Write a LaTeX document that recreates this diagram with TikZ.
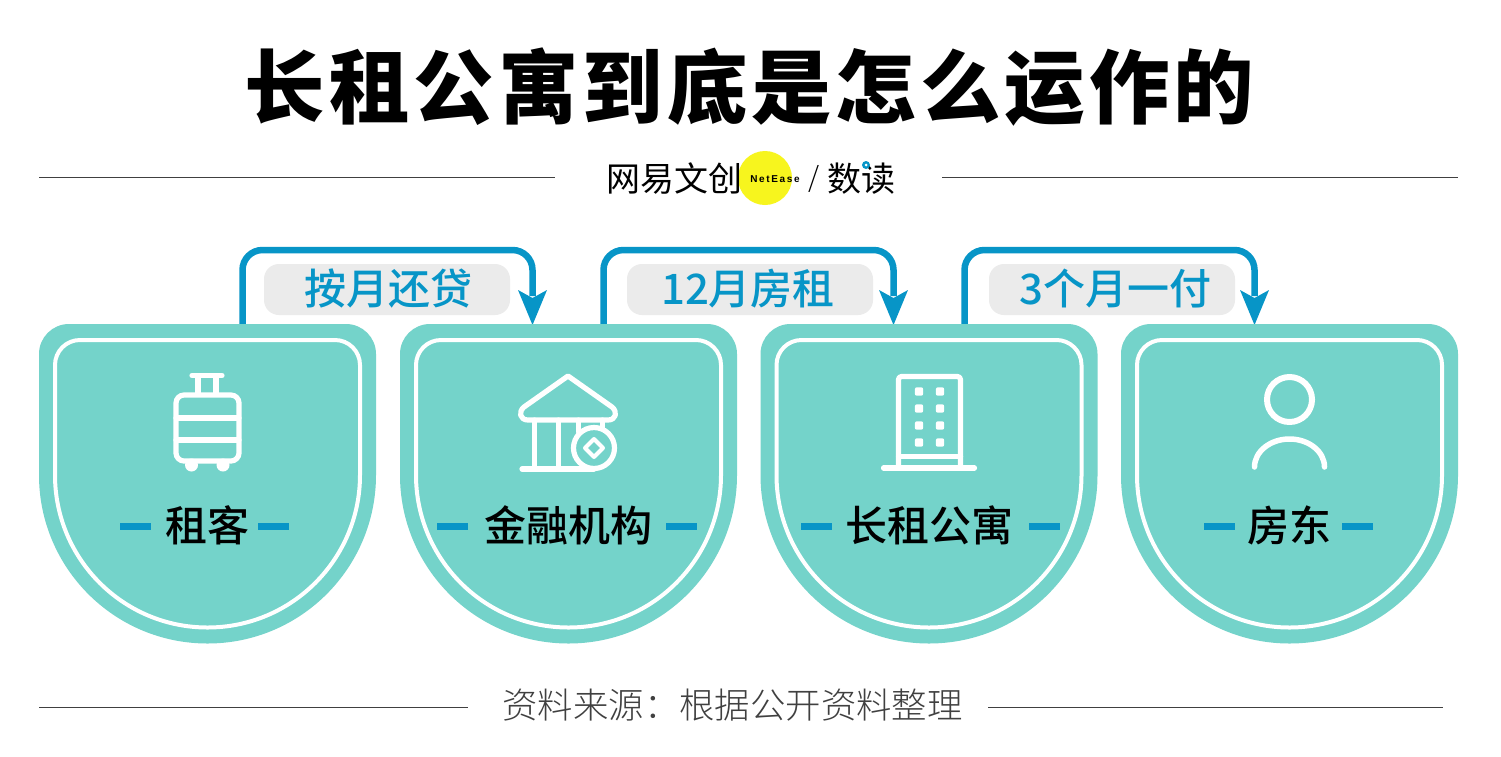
\documentclass[tikz,border=0pt]{standalone}
\usepackage{fontspec}
\setmainfont{Noto Sans CJK SC}
\newfontfamily\cjkblack[LetterSpace=5]{Noto Sans CJK SC Black}
\newfontfamily\cjkmed{Noto Sans CJK SC Medium}
\newfontfamily\cjklight{Noto Sans CJK SC Light}
\newfontfamily\latinbold{Liberation Sans Bold}
\definecolor{teal}{HTML}{74D3CA}
\definecolor{bluel}{HTML}{0795C7}
\definecolor{pill}{HTML}{EBEBEB}
\definecolor{ylw}{HTML}{F7F51E}
\tikzset{
  x=1pt,y=-1pt,
  icon/.style={draw=white,line width=5.2pt,line cap=round,line join=round},
  rule/.style={draw=black!75,line width=1pt},
  link/.style={draw=bluel,line width=6.5pt,rounded corners=20pt},
  dashbar/.style={fill=bluel,draw=none},
  pilltext/.style={text=bluel,font=\cjkmed\fontsize{42}{42}\selectfont,inner sep=0pt},
  cardtext/.style={text=black,font=\cjkmed\fontsize{42}{42}\selectfont,inner sep=0pt},
}
\newcommand{\card}[1]{%
  \begin{scope}[xshift=#1pt]
    \fill[teal] (39,354) arc[start angle=180,end angle=270,radius=30] -- (346,324) arc[start angle=-90,end angle=0,radius=30] -- (376,475) arc[start angle=0,end angle=180,radius=168.5] -- cycle;
    \draw[white,line width=4pt] (55,365) arc[start angle=180,end angle=270,radius=25] -- (335,340) arc[start angle=-90,end angle=0,radius=25] -- (360,475) arc[start angle=0,end angle=180,radius=152.5] -- cycle;
  \end{scope}}
\newcommand{\flow}[5]{% xshift, name, text, pill offset, text x
  \begin{scope}[xshift=#1pt]
    \coordinate (#2s) at (242.5,325);
    \coordinate (#2e) at (532.5,325);
    \draw[link] (#2s) -- (242.5,250) -- (532.5,250) -- (532.5,296);
    \fill[bluel] (#2e) -- (518,290) -- (532.5,298) -- (547,290) -- cycle;
    \fill[pill,rounded corners=15pt] (264+#4,264) rectangle (510+#4,315);
    \node[pilltext] (#2t) at (#5,289) {#3};
  \end{scope}}
\begin{document}
\begin{tikzpicture}
\useasboundingbox (0,0) rectangle (1501,756);
\fill[white] (0,0) rectangle (1501,756);
\node[inner sep=0pt,font=\cjkblack\fontsize{80.4}{80.4}\selectfont] (title) at (749.5,87) {长租公寓到底是怎么运作的};
% header rules
\coordinate (hl1) at (39,177.5); \coordinate (hl2) at (555,177.5);
\coordinate (hr1) at (942,177.5); \coordinate (hr2) at (1458,177.5);
\draw[rule] (hl1) -- (hl2); \draw[rule] (hr1) -- (hr2);
% logo
\fill[ylw] (765,178) circle[radius=27];
\node[inner sep=0pt,font=\fontsize{34}{34}\selectfont] (logoa) at (674,179) {网易文创};
\node[inner sep=0pt,font=\latinbold\fontsize{10}{10}\selectfont] (logob) at (775,179) {N\,e\,t\,E\,a\,s\,e};
\node[inner sep=0pt,font=\cjklight\fontsize{28}{28}\selectfont] (logoc) at (814,179) {/};
\node[inner sep=0pt,font=\fontsize{34}{34}\selectfont] (logod) at (861,179) {数读};
\fill[bluel] (866,165) circle[radius=4];
\fill[white] (866,165) circle[radius=1.5];
% connectors
\flow{0}{fa}{按月还贷}{0}{388}
\flow{361}{fb}{12月房租}{2}{387}
\flow{722}{fc}{3个月一付}{3}{393.5}
% cards
\card{0}\card{361}\card{721.5}\card{1082}
% luggage
\draw[icon,rounded corners=8pt] (176,420) -- (176,395) -- (239,395) -- (239,461) -- (176,461) -- cycle;
\draw[icon] (192,375.5) -- (222,375.5);
\draw[icon] (198,376) -- (198,394) (216,376) -- (216,394);
\draw[icon] (176,418) -- (239,418) (176,440) -- (239,440);
\fill[white] (191.5,465) circle[radius=6.5] (223,465) circle[radius=6.5];
% bank
\draw[icon] (568,376) -- (524,407) .. controls (518,412) and (520,420) .. (528,420) -- (608,420) .. controls (616,420) and (618,412) .. (612,407) -- cycle;
\draw[icon] (534.5,420) -- (534.5,469) (558.5,420) -- (558.5,469) (578.5,420) -- (578.5,432) (602.5,420) -- (602.5,430);
\draw[icon] (522,469) -- (594,469);
\draw[icon,fill=teal] (594,448) circle[radius=20.5];
\draw[icon,line width=4pt] (594,439) -- (603,448) -- (594,457) -- (585,448) -- cycle;
% building
\draw[icon,rounded corners=3pt] (898.5,466) -- (898.5,376.5) -- (960.5,376.5) -- (960.5,466);
\draw[icon] (898.5,456.5) -- (960.5,456.5);
\draw[icon] (883.5,468) -- (974.5,468);
\foreach \xx in {919,940}\foreach \yy in {391.5,408.5,425.5,442.5}
  \fill[white,rounded corners=2pt] (\xx-4.2,\yy-4.2) rectangle (\xx+4.2,\yy+4.2);
% person
\draw[icon,line width=6pt] (1289.5,399.5) circle[radius=22.5];
\draw[icon,line width=5.5pt] (1254.5,467) arc[start angle=180,end angle=360,x radius=35,y radius=28];
% card labels
\foreach \cx/\lh/\rh/\nm/\tx in {
  207.5/120/258/la/租客,
  568.5/437/666/lb/金融机构,
  929/801/1029/lc/长租公寓,
  1289.5/1204/1342/ld/房东}{
  \node[cardtext] (\nm) at (\cx,525) {\tx};
  \fill[dashbar] (\lh,522.5) rectangle ++(31,7);
  \fill[dashbar] (\rh,522.5) rectangle ++(31,7);
}
% footer
\coordinate (fl1) at (39,707); \coordinate (fl2) at (468,707);
\coordinate (fr1) at (988,707); \coordinate (fr2) at (1443,707);
\draw[rule] (fl1) -- (fl2); \draw[rule] (fr1) -- (fr2);
\node[inner sep=0pt,text=black!75,font=\cjklight\fontsize{35.4}{35.4}\selectfont] (src) at (732.5,705) {资料来源：根据公开资料整理};
\end{tikzpicture}
\end{document}
